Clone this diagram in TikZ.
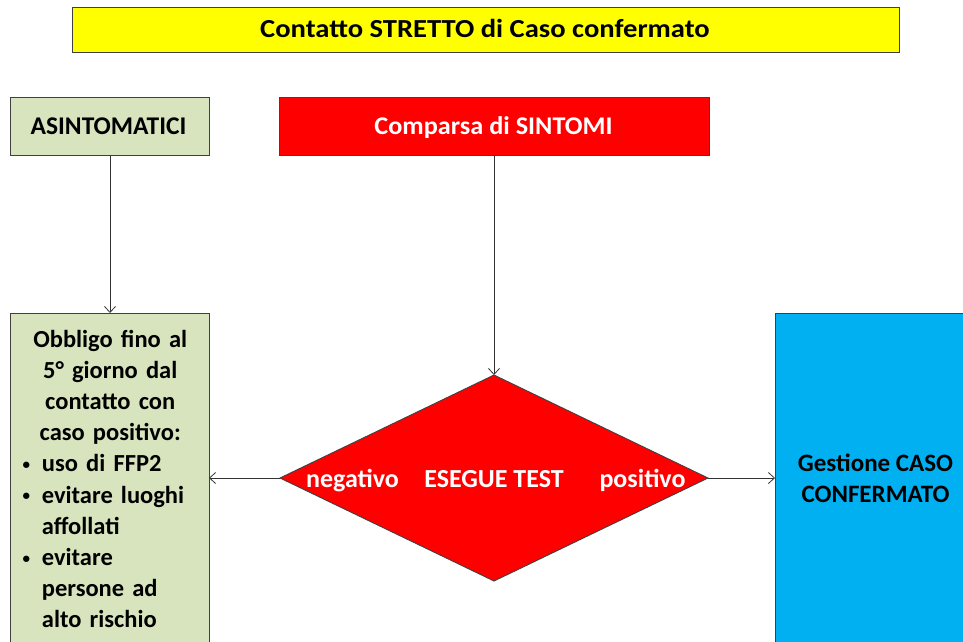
\documentclass[tikz,border=0pt]{standalone}
\usepackage{fontspec}
\setmainfont{Carlito}
\usetikzlibrary{arrows.meta}
\definecolor{ygold}{HTML}{FFFF00}
\definecolor{gfill}{HTML}{D7E4BD}
\definecolor{rfill}{HTML}{FF0000}
\definecolor{bfill}{HTML}{00B0F0}
\newcommand{\bul}{\makebox[19.7pt][l]{\hspace*{0.5pt}\raisebox{2.2pt}{\fontsize{15}{15}\selectfont\textbullet}}}
\tikzset{
  boxst/.style={draw=black!75, line width=0.9pt},
  conn/.style={draw=black!80, line width=0.8pt, -{Straight Barb[length=6pt,width=11pt]}},
  lbl/.style={inner sep=0pt, anchor=base},
}
\begin{document}
\begin{tikzpicture}[x=1pt,y=-1pt]
\useasboundingbox (0,0) rectangle (963,641);
\clip (0,0) rectangle (963,641);
% boxes
\draw[boxst, fill=ygold] (72,7) rectangle (899,52);
\node[lbl, font=\bfseries\fontsize{26}{30}\selectfont] (title) at (485,37.7) {\scalebox{1.1}[1]{Contatto STRETTO di Caso confermato}};
\draw[boxst, fill=gfill] (10,97) rectangle (209,155);
\node[lbl, font=\bfseries\fontsize{25.5}{30}\selectfont] (asin) at (108.5,134.3) {ASINTOMATICI};
\coordinate (asinB) at (110,155);
\draw[boxst, fill=rfill] (279,97) rectangle (709,155);
\node[lbl, text=white, font=\bfseries\fontsize{25.5}{30}\selectfont] (comp) at (493.5,134.3) {\scalebox{1.03}[1]{Comparsa di SINTOMI}};
\coordinate (compB) at (494,155);
\draw[boxst, fill=gfill] (10,313) rectangle (209,660);
\coordinate (obbT) at (110,313);
\coordinate (obbR) at (209,478);
\draw[boxst, fill=bfill] (775,313) rectangle (975,660);
\coordinate (gestL) at (775,478);
\draw[boxst, fill=rfill] (494,375) -- (708,478) -- (494,581) -- (280,478) -- cycle;
\coordinate (diaT) at (494,375);
\coordinate (diaL) at (280,478);
\coordinate (diaR) at (708,478);
% texts
\node[lbl, anchor=base west, text width=176pt, font=\bfseries\fontsize{24.5}{31.2}\selectfont] (obb) at (22,347) {%
\centering Obbligo fino al\\5° giorno dal\\contatto con\\caso positivo:\par
\raggedright
\bul uso di FFP2\\
\bul evitare luoghi\\
\hspace*{19.7pt}affollati\\
\bul evitare\\
\hspace*{19.7pt}persone ad\\
\hspace*{19.7pt}alto rischio\par};
\node[lbl, align=center, font=\bfseries\fontsize{25}{30.7}\selectfont] (gest) at (875.5,502) {Gestione CASO\\CONFERMATO};
\node[lbl, text=white, font=\bfseries\fontsize{26}{26}\selectfont] (neg) at (352.5,487) {negativo};
\node[lbl, text=white, font=\bfseries\fontsize{26}{26}\selectfont] (test) at (494,487) {ESEGUE TEST};
\node[lbl, text=white, font=\bfseries\fontsize{26}{26}\selectfont] (pos) at (642.5,487) {positivo};
% connectors
\draw[conn] (asinB) -- (obbT);
\draw[conn] (compB) -- (diaT);
\draw[conn] (diaL) -- (obbR);
\draw[conn] (diaR) -- (gestL);
\end{tikzpicture}
\end{document}
